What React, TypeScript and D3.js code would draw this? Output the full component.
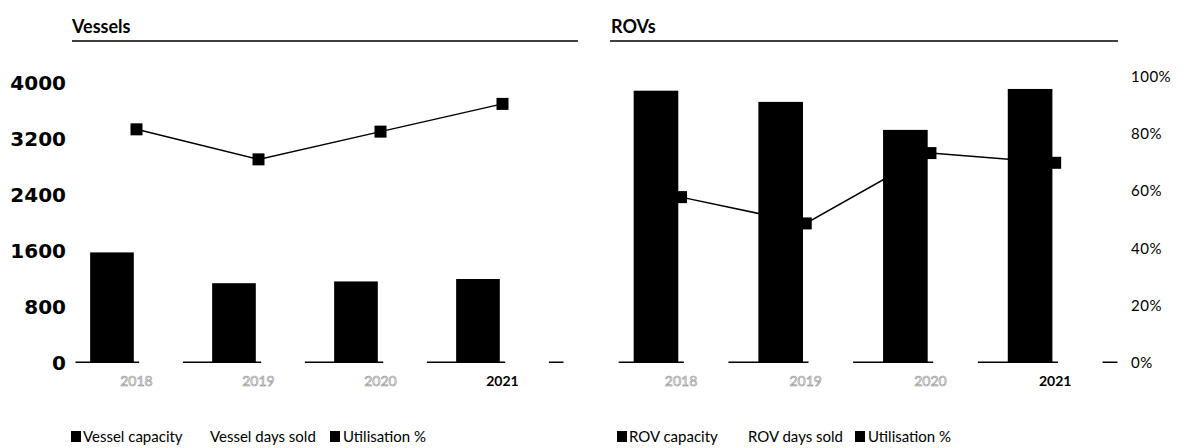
import React from 'react';
import * as d3 from 'd3';

const years = ['2018', '2019', '2020', '2021'];
const vesselCapacity = [1580, 1140, 1165, 1200];
const vesselDaysSold = [1290, 810, 945, 1090];
const vesselUtilisation = [0.817, 0.712, 0.809, 0.906];
const rovCapacity = [3890, 3730, 3330, 3915];
const rovDaysSold = [2255, 1820, 2445, 2740];
const rovUtilisation = [0.58, 0.488, 0.734, 0.70];
const leftTicks = [0, 800, 1600, 2400, 3200, 4000];
const pctTicks = [0, 0.2, 0.4, 0.6, 0.8, 1];
const vesselLegend = ['Vessel capacity', 'Vessel days sold', 'Utilisation %'];
const rovLegend = ['ROV capacity', 'ROV days sold', 'Utilisation %'];

type PanelProps = {
  title: string;
  capacity: number[];
  sold: number[];
  util: number[];
  x0: number;
  x1: number;
  titleX: number;
  lineX0: number;
  lineX1: number;
  legend: string[];
  legendX: number[];
};

function Panel(p: PanelProps) {
  const y = d3.scaleLinear().domain([0, 4000]).range([363, 83]);
  const yp = d3.scaleLinear().domain([0, 1]).range([363, 77]);
  const xb = d3.scaleBand<string>().domain(years).range([p.x0, p.x1]).paddingInner(0.24).paddingOuter(0.12);
  const xs = d3.scaleBand<string>().domain(['cap', 'sold']).range([0, xb.bandwidth()]).paddingInner(0.11);
  const y0 = y(0);
  const center = (yr: string) => (xb(yr) as number) + xb.bandwidth() / 2;
  const line = d3
    .line<number>()
    .x((_, i) => center(years[i]))
    .y((d) => yp(d));
  const ms = 12;
  return (
    <g>
      <text x={p.titleX} y={33} fontFamily="Lato" fontWeight={700} fontSize={18} fill="#000">
        {p.title}
      </text>
      <line x1={p.lineX0} x2={p.lineX1} y1={41} y2={41} stroke="#000" strokeWidth={1.5} />
      <line x1={p.x0} x2={p.x1} y1={y0 - 0.8} y2={y0 - 0.8} stroke="#000" strokeWidth={1.6} />
      {years.map((yr, i) => (
        <rect
          key={'s' + yr}
          x={(xb(yr) as number) + (xs('sold') as number)}
          y={y(p.sold[i])}
          width={xs.bandwidth()}
          height={y0 - y(p.sold[i])}
          fill="#fff"
        />
      ))}
      <path d={line(p.util) as string} fill="none" stroke="#000" strokeWidth={1.5} />
      {p.util.map((u, i) => (
        <rect key={'m' + i} x={center(years[i]) - ms / 2} y={yp(u) - ms / 2} width={ms} height={ms} fill="#000" />
      ))}
      {years.map((yr, i) => (
        <rect
          key={'c' + yr}
          x={(xb(yr) as number) + (xs('cap') as number)}
          y={y(p.capacity[i])}
          width={xs.bandwidth()}
          height={y0 - y(p.capacity[i])}
          fill="#000"
        />
      ))}
      {years.map((yr, i) => (
        <text
          key={'l' + yr}
          x={center(yr)}
          y={386}
          textAnchor="middle"
          fontFamily="Lato"
          fontSize={14}
          fontWeight={i === 3 ? 700 : 400}
          fill={i === 3 ? '#000' : '#fff'}
          stroke={i === 3 ? 'none' : '#8a8a8a'}
          strokeWidth={0.6}
        >
          {yr}
        </text>
      ))}
      <g fontFamily="Lato" fontSize={15} fill="#000">
        <rect x={p.legendX[0]} y={431} width={10} height={11} fill="#000" />
        <text x={p.legendX[0] + 12} y={442}>{p.legend[0]}</text>
        <text x={p.legendX[1]} y={442}>{p.legend[1]}</text>
        <rect x={p.legendX[2]} y={431} width={10} height={11} fill="#000" />
        <text x={p.legendX[2] + 13} y={442}>{p.legend[2]}</text>
      </g>
    </g>
  );
}

export default function App() {
  const y = d3.scaleLinear().domain([0, 4000]).range([363, 83]);
  const yp = d3.scaleLinear().domain([0, 1]).range([363, 77]);
  return (
    <svg
      width={1184}
      height={448}
      style={{ position: 'absolute', left: 0, top: 0, background: '#fff' }}
    >
      <rect width={1184} height={448} fill="#fff" />
      {leftTicks.map((t) => (
        <text
          key={t}
          x={66}
          y={y(t) + 7}
          textAnchor="end"
          fontFamily="DejaVu Sans"
          fontWeight={700}
          fontSize={20}
          fill="#000"
        >
          {t}
        </text>
      ))}
      {pctTicks.map((t) => (
        <text key={t} x={1131} y={yp(t) + 5} fontFamily="Lato" fontSize={15} letterSpacing={0.5} fill="#000">
          {d3.format('.0%')(t)}
        </text>
      ))}
      <Panel
        title="Vessels"
        capacity={vesselCapacity}
        sold={vesselDaysSold}
        util={vesselUtilisation}
        x0={75.5}
        x1={563.5}
        titleX={72}
        lineX0={72}
        lineX1={578}
        legend={vesselLegend}
        legendX={[71, 210, 330]}
      />
      <Panel
        title="ROVs"
        capacity={rovCapacity}
        sold={rovDaysSold}
        util={rovUtilisation}
        x0={618.7}
        x1={1117.5}
        titleX={611}
        lineX0={610}
        lineX1={1118}
        legend={rovLegend}
        legendX={[617, 748, 855]}
      />
    </svg>
  );
}
